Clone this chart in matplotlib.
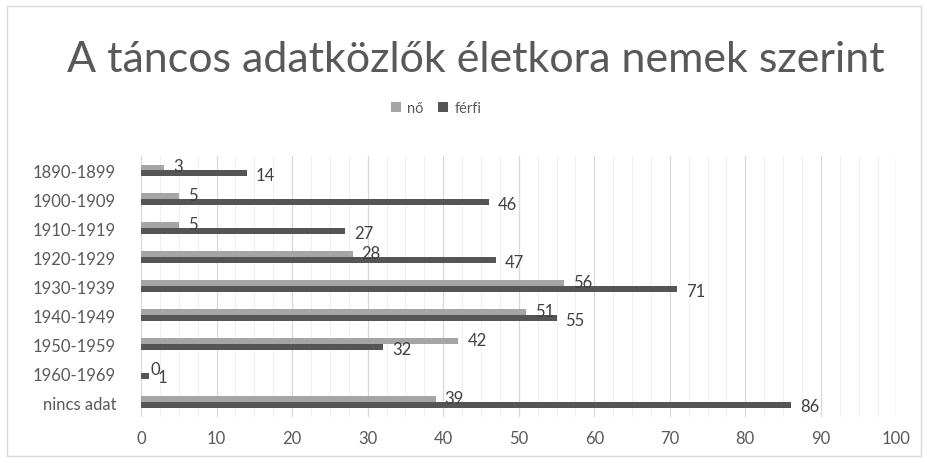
import numpy as np
import matplotlib.pyplot as plt
from matplotlib.patches import Rectangle

categories = ['1890-1899', '1900-1909', '1910-1919', '1920-1929', '1930-1939',
              '1940-1949', '1950-1959', '1960-1969', 'nincs adat']
no_values = [3, 5, 5, 28, 56, 51, 42, 0, 39]
ferfi_values = [14, 46, 27, 47, 71, 55, 32, 1, 86]
x_ticks = [0, 10, 20, 30, 40, 50, 60, 70, 80, 90, 100]

plt.rcParams['font.family'] = ['Lato', 'DejaVu Sans']

text_color = '#595959'
no_color = '#a5a5a5'
ferfi_color = '#555555'

fig = plt.figure(figsize=(9.28, 4.64), dpi=100)
fig.patches.append(Rectangle((0.008, 0.015), 0.984, 0.97, transform=fig.transFigure,
                             fill=False, edgecolor='#d9d9d9', linewidth=1))
ax = fig.add_axes([0.152, 0.10, 0.814, 0.562])

y = np.arange(len(categories))
h = 0.2
bars_no = ax.barh(y - 0.1, no_values, height=h, color=no_color, label='nő', zorder=3)
bars_ferfi = ax.barh(y + 0.1, ferfi_values, height=h, color=ferfi_color, label='férfi', zorder=3)

# data labels, Excel style: just past the end of each bar
for rect, v in zip(bars_no, no_values):
    ax.text(rect.get_width() + 1.2, rect.get_y() + rect.get_height() / 2 - 0.05, str(v),
            fontsize=12, color='#404040', ha='left', va='center', zorder=4)
for rect, v in zip(bars_ferfi, ferfi_values):
    ax.text(rect.get_width() + 1.2, rect.get_y() + rect.get_height() / 2 + 0.05, str(v),
            fontsize=12, color='#404040', ha='left', va='center', zorder=4)

ax.set_ylim(len(categories) - 0.5, -0.5)
ax.set_xlim(0, 100)
ax.set_yticks(y)
ax.set_yticklabels(categories)
ax.set_xticks(x_ticks)
ax.set_xticks(np.arange(0, 101, 2.5), minor=True)
ax.grid(axis='x', which='major', color='#d9d9d9', linewidth=0.9, zorder=0)
ax.grid(axis='x', which='minor', color='#f0f0f0', linewidth=0.8, zorder=0)
ax.tick_params(axis='both', which='both', length=0, labelsize=12, labelcolor=text_color)
ax.tick_params(axis='y', pad=18)
ax.tick_params(axis='x', pad=10)
for s in ax.spines.values():
    s.set_visible(False)

fig.text(0.513, 0.87, 'A táncos adatközlők életkora nemek szerint', fontsize=31,
         color=text_color, ha='center', va='center')
fig.legend(handles=[bars_no, bars_ferfi], labels=['nő', 'férfi'], loc='center',
           bbox_to_anchor=(0.47, 0.765), ncol=2, frameon=False, fontsize=10.5,
           labelcolor=text_color, handlelength=0.7, handleheight=0.7,
           columnspacing=1.0, handletextpad=0.4)

fig.savefig('out.png', dpi=100)
